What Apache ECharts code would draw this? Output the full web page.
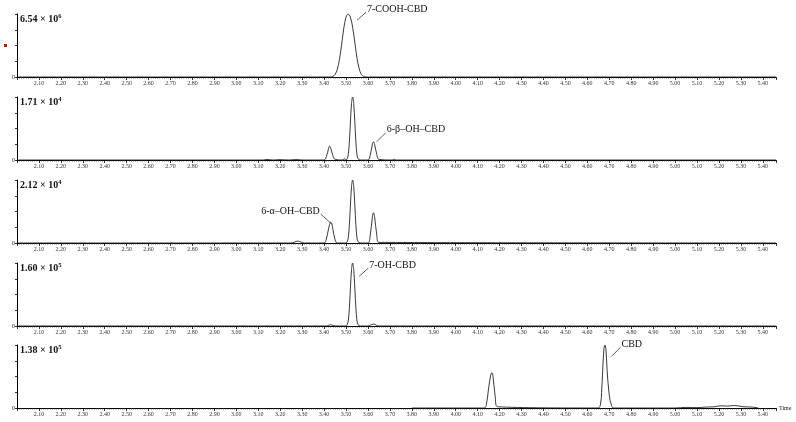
<!DOCTYPE html>
<html>
<head>
<meta charset="utf-8">
<script src="https://cdn.jsdelivr.net/npm/echarts@6/dist/echarts.min.js"></script>
<style>
  html, body { margin: 0; padding: 0; background: #fff; }
  #main { width: 796px; height: 422px; }
</style>
</head>
<body>
<div id="main"></div>
<script>
// retention time (min) and relative intensity per trace
var t1 = [2.00, 3.43, 3.44, 3.45, 3.46, 3.47, 3.48, 3.49, 3.50, 3.51, 3.52, 3.53, 3.54, 3.55, 3.56, 3.57, 3.58, 3.59, 5.46];
var v1 = [0, 0, 0.01, 0.04, 0.12, 0.28, 0.52, 0.78, 0.95, 1.0, 0.95, 0.79, 0.55, 0.3, 0.13, 0.04, 0.01, 0, 0];

var t2 = [2.00, 3.12, 3.14, 3.17, 3.20, 3.24, 3.27, 3.30, 3.40, 3.41, 3.42, 3.425, 3.43, 3.44, 3.45, 3.48, 3.495, 3.50,
          3.505, 3.51, 3.515, 3.52, 3.525, 3.53, 3.535, 3.54, 3.545, 3.55, 3.555, 3.565, 3.60, 3.61, 3.62, 3.625, 3.63, 3.64, 3.65, 3.71, 3.72, 3.73, 5.46];
var v2 = [0, 0, 0.008, 0, 0.006, 0, 0.008, 0, 0, 0.05, 0.18, 0.22, 0.19, 0.07, 0.01, 0, 0.02, 0,
          0.02, 0.08, 0.28, 0.6, 0.9, 1.0, 0.9, 0.6, 0.28, 0.08, 0.02, 0, 0, 0.07, 0.25, 0.29, 0.25, 0.09, 0.01, 0, 0.012, 0, 0];

var t3 = [2.00, 3.25, 3.28, 3.31, 3.40, 3.41, 3.42, 3.43, 3.435, 3.44, 3.45, 3.46, 3.50,
          3.505, 3.51, 3.515, 3.52, 3.525, 3.53, 3.535, 3.54, 3.545, 3.55, 3.555, 3.565, 3.60, 3.61, 3.62, 3.625, 3.63, 3.64, 3.65, 5.46];
var v3 = [0, 0, 0.03, 0, 0, 0.06, 0.22, 0.33, 0.31, 0.22, 0.05, 0, 0,
          0.02, 0.08, 0.28, 0.6, 0.9, 1.0, 0.9, 0.6, 0.28, 0.08, 0.02, 0, 0, 0.11, 0.41, 0.48, 0.42, 0.13, 0.01, 0];

var t4 = [2.00, 3.41, 3.43, 3.45, 3.50, 3.505, 3.51, 3.515, 3.52, 3.525, 3.53, 3.535, 3.54, 3.545, 3.55, 3.555, 3.565, 3.60, 3.625, 3.65, 5.46];
var v4 = [0, 0, 0.02, 0, 0, 0.02, 0.08, 0.28, 0.6, 0.9, 1.0, 0.9, 0.6, 0.28, 0.08, 0.02, 0, 0, 0.03, 0, 0];

var t5 = [3.80, 4.13, 4.14, 4.15, 4.16, 4.165, 4.17, 4.18, 4.19, 4.65, 4.66, 4.665, 4.67, 4.675, 4.68, 4.685, 4.69, 4.70, 4.71, 4.72,
          5.00, 5.05, 5.10, 5.14, 5.18, 5.21, 5.24, 5.27, 5.31, 5.35, 5.38];
var v5 = [0, 0, 0.06, 0.32, 0.53, 0.56, 0.5, 0.18, 0.02, 0, 0.06, 0.25, 0.6, 0.92, 1.0, 0.92, 0.6, 0.2, 0.04, 0,
          0, 0.01, 0.005, 0.015, 0.02, 0.035, 0.03, 0.04, 0.02, 0.015, 0];

var traces = [[t1, v1], [t2, v2], [t3, v3], [t4, v4], [t5, v5]];
var scaleMant = ['6.54', '1.71', '2.12', '1.60', '1.38'];
var scaleExp = ['6', '4', '4', '5', '5'];

// peak annotations: panel, data point where the leader starts, text
var notes = [
  { g: 0, at: [3.55, 0.90], text: '7-COOH-CBD', dx: 9, dy: -8 },
  { g: 1, at: [3.64, 0.29], text: '6-β–OH–CBD', dx: 9, dy: -9 },
  { g: 2, at: [3.435, 0.30], text: '6-α–OH–CBD', dx: -11, dy: -10 },
  { g: 3, at: [3.56, 0.79], text: '7-OH-CBD', dx: 9, dy: -8 },
  { g: 4, at: [4.71, 0.82], text: 'CBD', dx: 9, dy: -9 }
];

var serif = '"Liberation Serif", "DejaVu Serif", serif';
var tops = [14, 97, 180, 263, 345];
var grids = [], xAxes = [], yAxes = [], series = [];

for (var i = 0; i < 5; i++) {
  grids.push({ left: 17, right: 20, top: tops[i], height: 63 });
  xAxes.push({
    type: 'value', gridIndex: i, min: 2.0, max: 5.46, interval: 0.1,
    name: i === 4 ? 'Time' : '', nameLocation: 'end', nameGap: 3,
    nameTextStyle: { fontFamily: serif, fontSize: 6, color: '#222', verticalAlign: 'middle' },
    axisLine: { lineStyle: { color: '#000', width: 1 } },
    axisTick: { length: 3, lineStyle: { color: '#000', width: 0.8 } },
    minorTick: { show: true, splitNumber: 10, length: 1.5, lineStyle: { color: '#222', width: 0.6 } },
    splitLine: { show: false },
    axisLabel: {
      fontFamily: serif, fontSize: 6, color: '#333', margin: 3,
      showMinLabel: false, showMaxLabel: false,
      formatter: function (v) { return v.toFixed(2); }
    }
  });
  yAxes.push({
    type: 'value', gridIndex: i, min: 0, max: 1, interval: 0.25,
    axisLine: { show: true, lineStyle: { color: '#000', width: 1 } },
    axisTick: { show: true, length: 2, lineStyle: { color: '#000', width: 0.8 } },
    splitLine: { show: false },
    axisLabel: {
      fontFamily: serif, fontSize: 6, color: '#222', margin: 2,
      formatter: function (v) { return v === 0 ? '0' : ''; }
    }
  });
  var d = [];
  for (var k = 0; k < traces[i][0].length; k++) d.push([traces[i][0][k], traces[i][1][k]]);
  series.push({
    type: 'line', xAxisIndex: i, yAxisIndex: i, data: d,
    showSymbol: false, smooth: 0.35, clip: true,
    lineStyle: { color: '#222', width: 0.9 }
  });
}

var chart = echarts.init(document.getElementById('main'));
chart.setOption({
  backgroundColor: '#fff',
  animation: false,
  grid: grids, xAxis: xAxes, yAxis: yAxes, series: series
});

var gfx = [];
for (var j = 0; j < 5; j++) {
  gfx.push({
    type: 'text', left: 20, top: tops[j] - 1,
    style: {
      text: '{m|' + scaleMant[j] + ' × 10}{e|' + scaleExp[j] + '}',
      rich: {
        m: { fontFamily: serif, fontSize: 10, fontWeight: 'bold', fill: '#111', lineHeight: 12 },
        e: { fontFamily: serif, fontSize: 6.5, fontWeight: 'bold', fill: '#111', verticalAlign: 'top', lineHeight: 12 }
      }
    }
  });
}
notes.forEach(function (n) {
  var p = chart.convertToPixel({ gridIndex: n.g }, n.at);
  var ex = p[0] + n.dx, ey = p[1] + n.dy;
  gfx.push({
    type: 'line', shape: { x1: p[0], y1: p[1], x2: ex, y2: ey },
    style: { stroke: '#333', lineWidth: 0.8 }
  });
  gfx.push({
    type: 'text', x: n.dx > 0 ? ex + 1 : ex - 1, y: ey - 3,
    style: {
      text: n.text, fontFamily: serif, fontSize: 10, fill: '#111',
      align: n.dx > 0 ? 'left' : 'right', verticalAlign: 'middle'
    }
  });
});
// small red mark at the left edge of the first panel
gfx.push({ type: 'rect', shape: { x: 4, y: 44, width: 3, height: 3 }, style: { fill: '#e00000' } });
chart.setOption({ graphic: gfx });
</script>
</body>
</html>
